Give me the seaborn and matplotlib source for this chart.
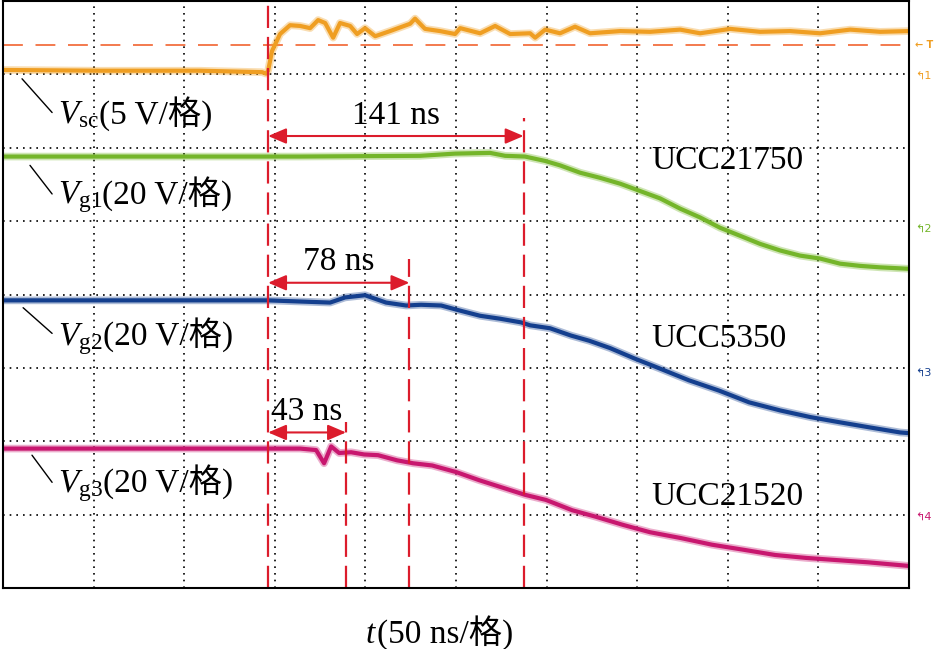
import numpy as np
import pandas as pd
import seaborn as sns
import matplotlib
matplotlib.use("Agg")
import matplotlib.pyplot as plt

# time in ns relative to the trigger, level in scope divisions (0 = bottom, 8 = top)
t_left, t_span = -146.3, 500.0

t_sc = [-146, -93, -38, -3.3, -1.1, 0, 2.2, 6.6, 12.1, 17.7, 23.2, 27.6, 31.5, 35.9, 39.7, 45.3,
        49.1, 53.5, 59.1, 67.3, 78.4, 81.1, 86.6, 94.9, 103.2, 106.0, 117.0, 125.3, 133.6, 144.6,
        147.4, 152.9, 161.1, 169.4, 177.7, 194.3, 210.8, 227.4, 238.4, 255.0, 271.5, 288.1, 304.6,
        321.2, 337.8, 354]
v_sc = [7.06, 7.05, 7.05, 7.03, 7.01, 7.05, 7.32, 7.55, 7.67, 7.66, 7.63, 7.74, 7.70, 7.50, 7.70,
        7.66, 7.55, 7.63, 7.52, 7.59, 7.69, 7.76, 7.62, 7.59, 7.55, 7.63, 7.56, 7.66, 7.55, 7.56,
        7.50, 7.61, 7.56, 7.65, 7.56, 7.59, 7.58, 7.61, 7.56, 7.62, 7.58, 7.59, 7.56, 7.61, 7.58, 7.59]

t_g1 = [-146, -65, 17.7, 83.9, 103.2, 122.5, 130.8, 141.8, 152.9, 161.1, 172.2, 183.2, 194.3, 205.3,
        216.3, 227.4, 238.4, 249.4, 260.5, 271.5, 282.6, 293.6, 304.6, 315.7, 326.7, 337.8, 354]
v_g1 = [5.88, 5.88, 5.88, 5.89, 5.92, 5.93, 5.89, 5.88, 5.82, 5.76, 5.66, 5.59, 5.51, 5.41, 5.31,
        5.17, 5.05, 4.91, 4.80, 4.69, 4.60, 4.53, 4.49, 4.42, 4.39, 4.37, 4.35]

t_g2 = [-146, -65, 0, 34.2, 42.5, 53.5, 65.1, 76.2, 84.4, 95.5, 106.0, 117.0, 128.0, 139.6, 144.6,
        155.6, 167.2, 177.2, 188.7, 202.0, 216.3, 232.3, 248.9, 265.5, 282.6, 299.1, 315.1, 331.7,
        348.8, 354]
v_g2 = [3.92, 3.92, 3.92, 3.89, 3.96, 3.99, 3.89, 3.85, 3.86, 3.85, 3.78, 3.71, 3.67, 3.62, 3.58,
        3.54, 3.44, 3.37, 3.27, 3.13, 2.99, 2.83, 2.69, 2.53, 2.42, 2.33, 2.26, 2.19, 2.12, 2.11]

t_g3 = [-146, -65, 0, 17.7, 26.5, 30.9, 34.8, 39.2, 45.8, 53.0, 60.7, 71.2, 80.0, 90.5, 103.8,
        116.4, 129.1, 141.8, 153.4, 167.8, 181.0, 195.9, 210.8, 227.9, 245.0, 262.7, 279.8, 296.9,
        314.0, 331.1, 354]
v_g3 = [1.90, 1.90, 1.90, 1.90, 1.88, 1.70, 1.93, 1.84, 1.85, 1.82, 1.81, 1.74, 1.70, 1.67, 1.58,
        1.47, 1.37, 1.27, 1.20, 1.06, 0.97, 0.86, 0.76, 0.68, 0.59, 0.52, 0.45, 0.41, 0.38, 0.35, 0.30]

trig_level = 7.40
delays = [141, 78, 43]
delay_labels = ["141 ns", "78 ns", "43 ns"]
delay_tops = [6.41, 4.49, 2.26]
arrow_y = [6.16, 4.16, 2.12]

sig_names = ["sc", "g1", "g2", "g3"]
sig_scales = ["(5 V/格)", "(20 V/格)", "(20 V/格)", "(20 V/格)"]
sig_label_y = [6.33, 5.24, 3.31, 1.31]
leader_start = [(-135.8, 6.94), (-131.4, 5.76), (-135.2, 3.82), (-130.3, 1.81)]
leader_end = [(-119.2, 6.48), (-119.2, 5.37), (-119.2, 3.47), (-119.2, 1.44)]

drivers = ["UCC21750", "UCC5350", "UCC21520"]
driver_y = [5.71, 3.28, 1.13]

chan_marks = ["1", "2", "3", "4"]
chan_y = [6.98, 4.90, 2.94, 0.97]

colors = ["#EF9E22", "#74B52A", "#143F8E", "#C8176F"]
red = "#DC1C2C"

sns.set_theme(style="white")
plt.rcParams["font.family"] = ["Liberation Serif", "Noto Sans CJK SC"]
plt.rcParams["text.color"] = "black"
plt.rcParams["mathtext.fontset"] = "custom"
plt.rcParams["mathtext.rm"] = "Liberation Serif"
plt.rcParams["mathtext.it"] = "Liberation Serif:italic"
FS = 24

fig = plt.figure(figsize=(9.48, 6.49), dpi=100)
ax = fig.add_axes([3 / 948, 61 / 649, 906 / 948, 587 / 649])

# traces
traces = [(t_sc, v_sc), (t_g1, v_g1), (t_g2, v_g2), (t_g3, v_g3)]
for (tt, vv), c in zip(traces, colors):
    df = pd.DataFrame({"t": tt, "v": vv})
    sns.lineplot(data=df, x="t", y="v", ax=ax, color=c, linewidth=5.5, alpha=0.35,
                 estimator=None, sort=False)
    sns.lineplot(data=df, x="t", y="v", ax=ax, color=c, linewidth=3.0,
                 estimator=None, sort=False)

ax.set_xlim(t_left, t_left + t_span)
ax.set_ylim(0, 8)
ax.set_xlabel("")
ax.set_ylabel("")

# scope graticule
ax.set_xticks([t_left + 50 * k for k in range(1, 10)])
ax.set_yticks(range(1, 8))
ax.tick_params(length=0, labelbottom=False, labelleft=False)
ax.grid(True, color="black", linestyle=(0, (1, 3)), linewidth=1.2)
for s in ax.spines.values():
    s.set_color("black")
    s.set_linewidth(1.5)

# trigger level and trigger instant
ax.axhline(trig_level, color="#F27040", linestyle=(0, (11, 7)), linewidth=1.3, zorder=1)
ax.plot([0, 0], [0, 8], color=red, linestyle=(0, (10, 4)), linewidth=1.6)

for d, lab, top, ay in zip(delays, delay_labels, delay_tops, arrow_y):
    ax.plot([d, d], [0, top], color=red, linestyle=(0, (10, 4)), linewidth=1.6)
    ax.annotate("", xy=(d, ay), xytext=(0, ay),
                arrowprops=dict(arrowstyle="<|-|>,head_length=1.1,head_width=0.47",
                                mutation_scale=10, color=red, lw=1.5,
                                shrinkA=0, shrinkB=0))
    ax.text(d / 2, ay + 0.17, lab, fontsize=FS, ha="center", va="baseline", color="black")

# signal labels with leader lines
for name, sc, y, p0, p1 in zip(sig_names, sig_scales, sig_label_y, leader_start, leader_end):
    ax.plot([p0[0], p1[0]], [p0[1], p1[1]], color="black", linewidth=1.0)
    t1 = ax.text(-115.9, y, r"$V_{\mathrm{%s}}$" % name, fontsize=FS, va="baseline", ha="left",
                 color="black")
    ax.annotate(sc, xy=(1, y), xycoords=(t1, "data"), fontsize=FS, va="baseline", ha="left",
                color="black")

for name, y in zip(drivers, driver_y):
    ax.text(211.4, y, name, fontsize=FS, va="baseline", ha="left", color="black")

# right-hand channel markers
ax.text(357, trig_level, "← T", fontsize=7, color=colors[0], va="center", ha="left",
        family="DejaVu Sans", fontweight="bold", clip_on=False)
for m, y, c in zip(chan_marks, chan_y, colors):
    ax.text(357, y, "↰" + m, fontsize=8, color=c, va="center", ha="left",
            family="DejaVu Sans", clip_on=False)

# time axis label
tl = ax.text(53.5, -0.75, r"$t$", fontsize=FS, va="baseline", ha="left", clip_on=False,
             color="black")
ax.annotate("(50 ns/格)", xy=(1, -0.75), xycoords=(tl, "data"), fontsize=FS,
            va="baseline", ha="left", annotation_clip=False, color="black")

fig.savefig("out.png", dpi=100)
